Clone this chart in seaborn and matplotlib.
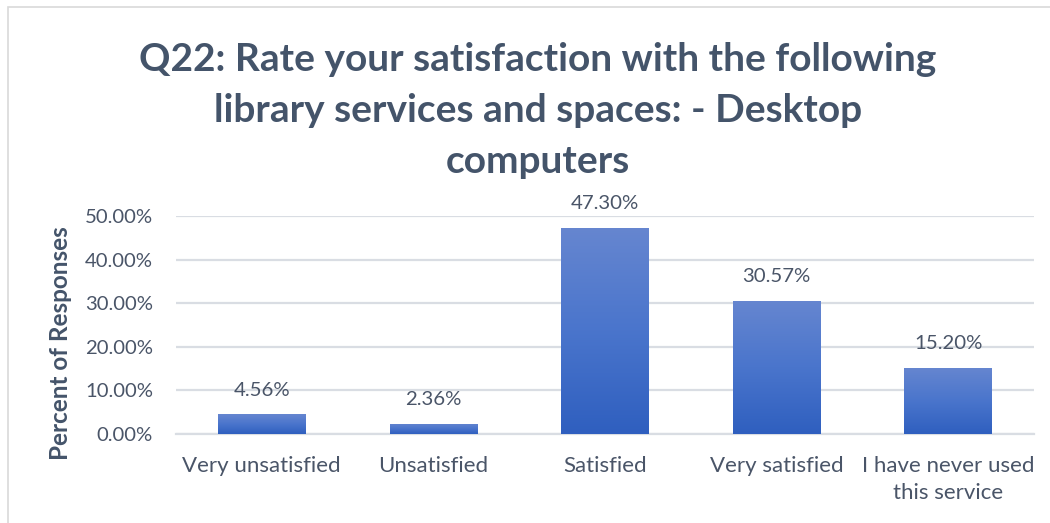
import numpy as np
import pandas as pd
import matplotlib
matplotlib.use("Agg")
import matplotlib.pyplot as plt
from matplotlib.colors import LinearSegmentedColormap
from matplotlib.patches import Rectangle
import seaborn as sns

categories = ["Very unsatisfied", "Unsatisfied", "Satisfied", "Very satisfied",
              "I have never used\nthis service"]
percent = [4.56, 2.36, 47.30, 30.57, 15.20]
y_ticks = [0, 10, 20, 30, 40, 50]

title = "Q22: Rate your satisfaction with the following\nlibrary services and spaces: - Desktop\ncomputers"
y_title = "Percent of Responses"

sns.set_theme(style="white")
plt.rcParams["font.family"] = ["Lato", "DejaVu Sans"]

text_col = "#4a5568"
title_col = "#44546A"
grid_col = "#d9dde3"

df = pd.DataFrame({"category": categories, "percent": percent})

fig = plt.figure(figsize=(10.5, 5.23), dpi=100)
ax = fig.add_axes([0.1676, 0.1702, 0.8172, 0.4168])

sns.barplot(data=df, x="category", y="percent", color="#4472C4",
            width=0.51, ax=ax, zorder=3)

# vertical gradient fill inside each bar
grad = LinearSegmentedColormap.from_list("bar", ["#2f5fbf", "#4a75cc", "#6686d0"])
ramp = np.linspace(0, 1, 256).reshape(-1, 1)
for bar in ax.patches:
    x0, y0 = bar.get_x(), bar.get_y()
    w, h = bar.get_width(), bar.get_height()
    im = ax.imshow(ramp, cmap=grad, origin="lower", aspect="auto",
                   extent=[x0, x0 + w, y0, y0 + h], zorder=4)
    im.set_clip_path(bar)
    bar.set_edgecolor("none")

ax.set_xlim(-0.5, len(categories) - 0.5)
ax.set_ylim(0, 50)
ax.set_yticks(y_ticks)
ax.set_yticklabels([f"{v:.2f}%" for v in y_ticks])
ax.yaxis.grid(True, color=grid_col, linewidth=1.6, zorder=0)
ax.set_axisbelow(True)
for s in ["top", "right", "left"]:
    ax.spines[s].set_visible(False)
ax.spines["bottom"].set_color(grid_col)
ax.spines["bottom"].set_linewidth(1.6)
ax.tick_params(axis="both", length=0, colors=text_col)
ax.tick_params(axis="y", pad=16.5, labelsize=14.6)
ax.tick_params(axis="x", pad=16, labelsize=16)
for lbl in ax.get_xticklabels():
    lbl.set_linespacing(1.45)
ax.set_xlabel("")
ax.set_ylabel("")

ax.bar_label(ax.containers[0], labels=[f"{v:.2f}%" for v in percent],
             padding=11, fontsize=14.7, color=text_col)

fig.text(0.058, 0.344, y_title, rotation=90, ha="center", va="center",
         fontsize=17.5, fontweight="bold", color=title_col)

fig.text(0.512, 0.789, title, ha="center", va="center", fontsize=28,
         fontweight="bold", color=title_col, linespacing=1.56)

# chart frame
fig.patches.append(Rectangle((8 / 1050, -0.01), 1.05, 1 - 7 / 523 + 0.01,
                             transform=fig.transFigure, fill=False,
                             edgecolor="#d9d9d9", linewidth=1.2))

fig.savefig("out.png", dpi=100, facecolor="white")
